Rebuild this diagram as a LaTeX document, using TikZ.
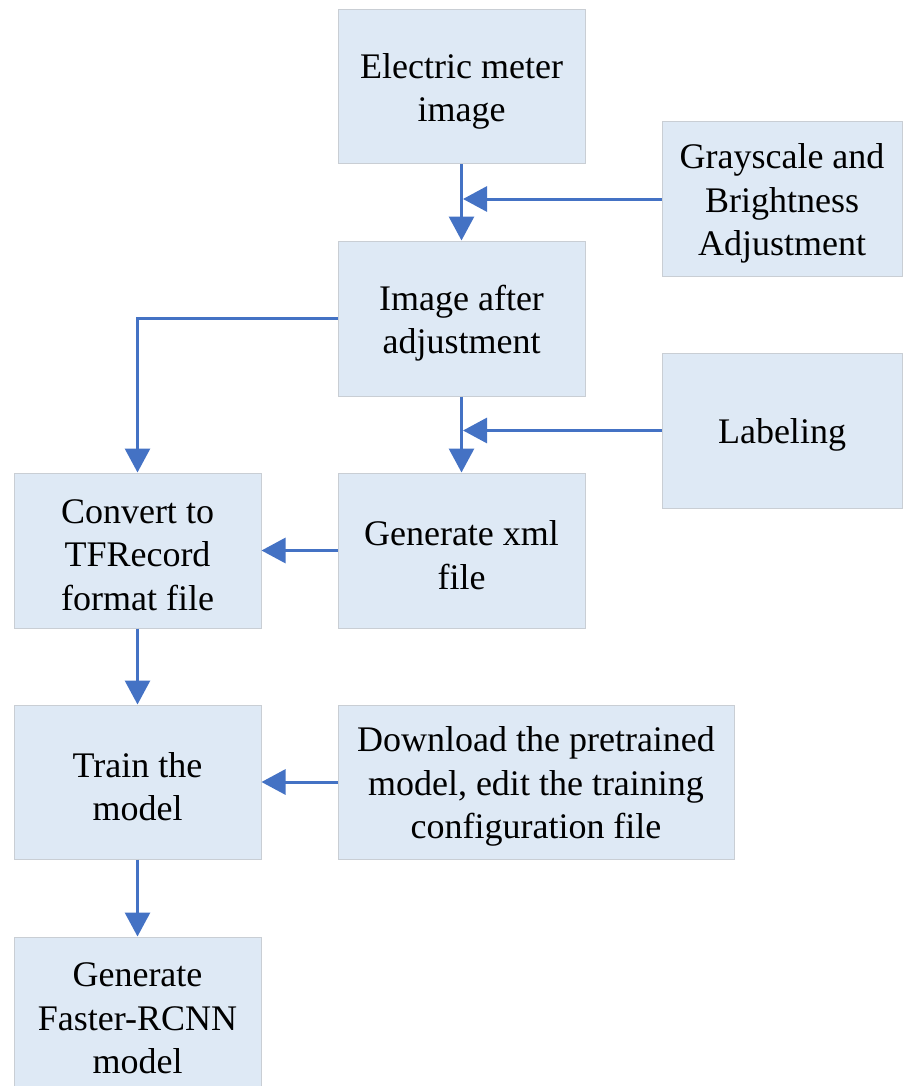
\documentclass[tikz,border=0pt]{standalone}
\usepackage{fontspec}
\setmainfont{Liberation Serif}
\usetikzlibrary{arrows.meta}
\definecolor{boxfill}{HTML}{DEE9F5}
\definecolor{boxline}{HTML}{C9CED4}
\definecolor{flow}{HTML}{4472C4}
\begin{document}
\begin{tikzpicture}[x=1pt,y=-1pt,
  % the box text is set a few points below the box centre
  stepbox/.style={draw=boxline, line width=1pt, fill=boxfill, inner sep=0pt},
  boxtext/.style={align=center, inner sep=0pt, yshift=-4.5pt,
    font=\fontsize{36}{43.5}\selectfont},
  flowline/.style={draw=flow, line width=3pt,
    -{Triangle[length=24pt,width=25pt]}}]
\useasboundingbox (0,0) rectangle (902,1086);
% process boxes
\node[stepbox, minimum width=247pt, minimum height=154pt] (meter) at (461.5,87) {};
\node[stepbox, minimum width=240pt, minimum height=154pt] (gray) at (782,199) {};
\node[stepbox, minimum width=247pt, minimum height=155pt] (adj) at (461.5,318.5) {};
\node[stepbox, minimum width=240pt, minimum height=155pt] (label) at (782,430.5) {};
\node[stepbox, minimum width=247pt, minimum height=155pt] (xml) at (461.5,550.5) {};
\node[stepbox, minimum width=247pt, minimum height=155pt] (tfr) at (137.5,550.5) {};
\node[stepbox, minimum width=247pt, minimum height=154pt] (train) at (137.5,782) {};
\node[stepbox, minimum width=396pt, minimum height=154pt] (dl) at (536,782) {};
\node[stepbox, minimum width=247pt, minimum height=154pt] (frcnn) at (137.5,1014) {};
% box captions
\node[boxtext] (meter-t) at (meter) {Electric meter\\image};
\node[boxtext] (gray-t) at (gray) {Grayscale and\\Brightness\\Adjustment};
\node[boxtext] (adj-t) at (adj) {Image after\\adjustment};
\node[boxtext] (label-t) at (label) {Labeling};
\node[boxtext] (xml-t) at (xml) {Generate xml\\file};
\node[boxtext] (tfr-t) at (tfr) {Convert to\\TFRecord\\format file};
\node[boxtext] (train-t) at (train) {Train the\\model};
\node[boxtext] (dl-t) at (dl) {Download the pretrained\\model, edit the training\\configuration file};
\node[boxtext] (frcnn-t) at (frcnn) {Generate\\Faster-RCNN\\model};
% connectors
\draw[flowline] (meter.south) -- (adj.north);
\coordinate (j1) at (meter.south |- gray.west);
\draw[flowline] (gray.west) -- ([xshift=1.5pt]j1);
\draw[flowline] (adj.west) -| (tfr.north);
\draw[flowline] (adj.south) -- (xml.north);
\coordinate (j2) at (adj.south |- label.west);
\draw[flowline] (label.west) -- ([xshift=1.5pt]j2);
\draw[flowline] (xml.west) -- (tfr.east);
\draw[flowline] (tfr.south) -- (train.north);
\draw[flowline] (dl.west) -- (train.east);
\draw[flowline] (train.south) -- (frcnn.north);
\end{tikzpicture}
\end{document}
